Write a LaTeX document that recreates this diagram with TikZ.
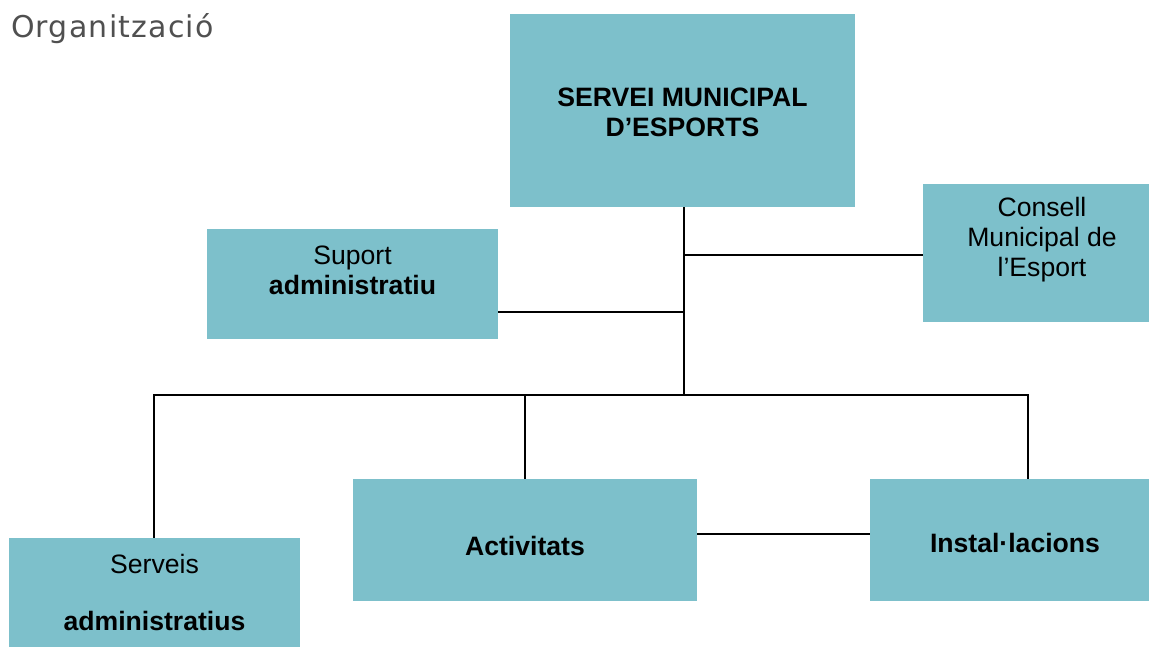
\documentclass[tikz,border=0pt]{standalone}
\usepackage{fontspec}
\setmainfont{Liberation Sans}
\newfontfamily\titlefont[LetterSpace=4]{DejaVu Sans}
\definecolor{boxc}{HTML}{7DC0CB}
\definecolor{titlec}{HTML}{505050}
\begin{document}
\begin{tikzpicture}[x=1pt,y=-1pt,
  box/.style={fill=boxc, draw=none, inner sep=0pt},
  txt/.style={align=center, font=\fontsize{26.6}{30}\selectfont, inner sep=0pt},
  btxt/.style={txt, font=\bfseries\fontsize{26.6}{30}\selectfont},
  link/.style={line width=2pt, black}]
\useasboundingbox (0,0) rectangle (1149,647);
\node[anchor=base west, font=\titlefont\fontsize{30}{34}\selectfont, text=titlec, inner sep=0pt] (title) at (11,38) {Organització};
% boxes
\node[box, minimum width=345pt, minimum height=193pt] (top) at (682.5,110.5) {};
\node[box, minimum width=226pt, minimum height=138pt] (consell) at (1036,253) {};
\node[box, minimum width=291pt, minimum height=110pt] (suport) at (352.5,284) {};
\node[box, minimum width=291pt, minimum height=109pt] (serveis) at (154.5,592.5) {};
\node[box, minimum width=344pt, minimum height=122pt] (activ) at (525,540) {};
\node[box, minimum width=279pt, minimum height=122pt] (instal) at (1009.5,540) {};
% texts
\node[btxt] (ttop) at (682.5,112) {SERVEI MUNICIPAL\\D’ESPORTS};
\node[txt] (tconsell) at (1042,240) {Consell\\Municipal de\\l’Esport};
\node[txt] (tsuport) at (352.5,270) {Suport\\\textbf{administratiu}};
\node[txt, font=\fontsize{26.6}{57}\selectfont] (tserveis) at (154.5,592) {Serveis\\\textbf{administratius}};
\node[btxt] (tactiv) at (525,546) {Activitats};
\node[btxt] (tinstal) at (1015,543) {Instal·lacions};
% connectors
\coordinate (hub) at (684,395);
\coordinate (j1) at (684,255);
\coordinate (j2) at (684,312);
\coordinate (ir) at (1028,479);
\draw[link] (top.south -| hub) -- (hub);
\draw[link] (j1) -- (j1 -| consell.west);
\draw[link] (j2) -- (j2 -| suport.east);
\draw[link] (serveis.north -| 154,0) |- (ir |- hub) -- (ir);
\draw[link] (activ.north) -- (activ.north |- hub);
\draw[link] ([yshift=6pt]activ.east) -- ([yshift=6pt]instal.west);
\end{tikzpicture}
\end{document}
